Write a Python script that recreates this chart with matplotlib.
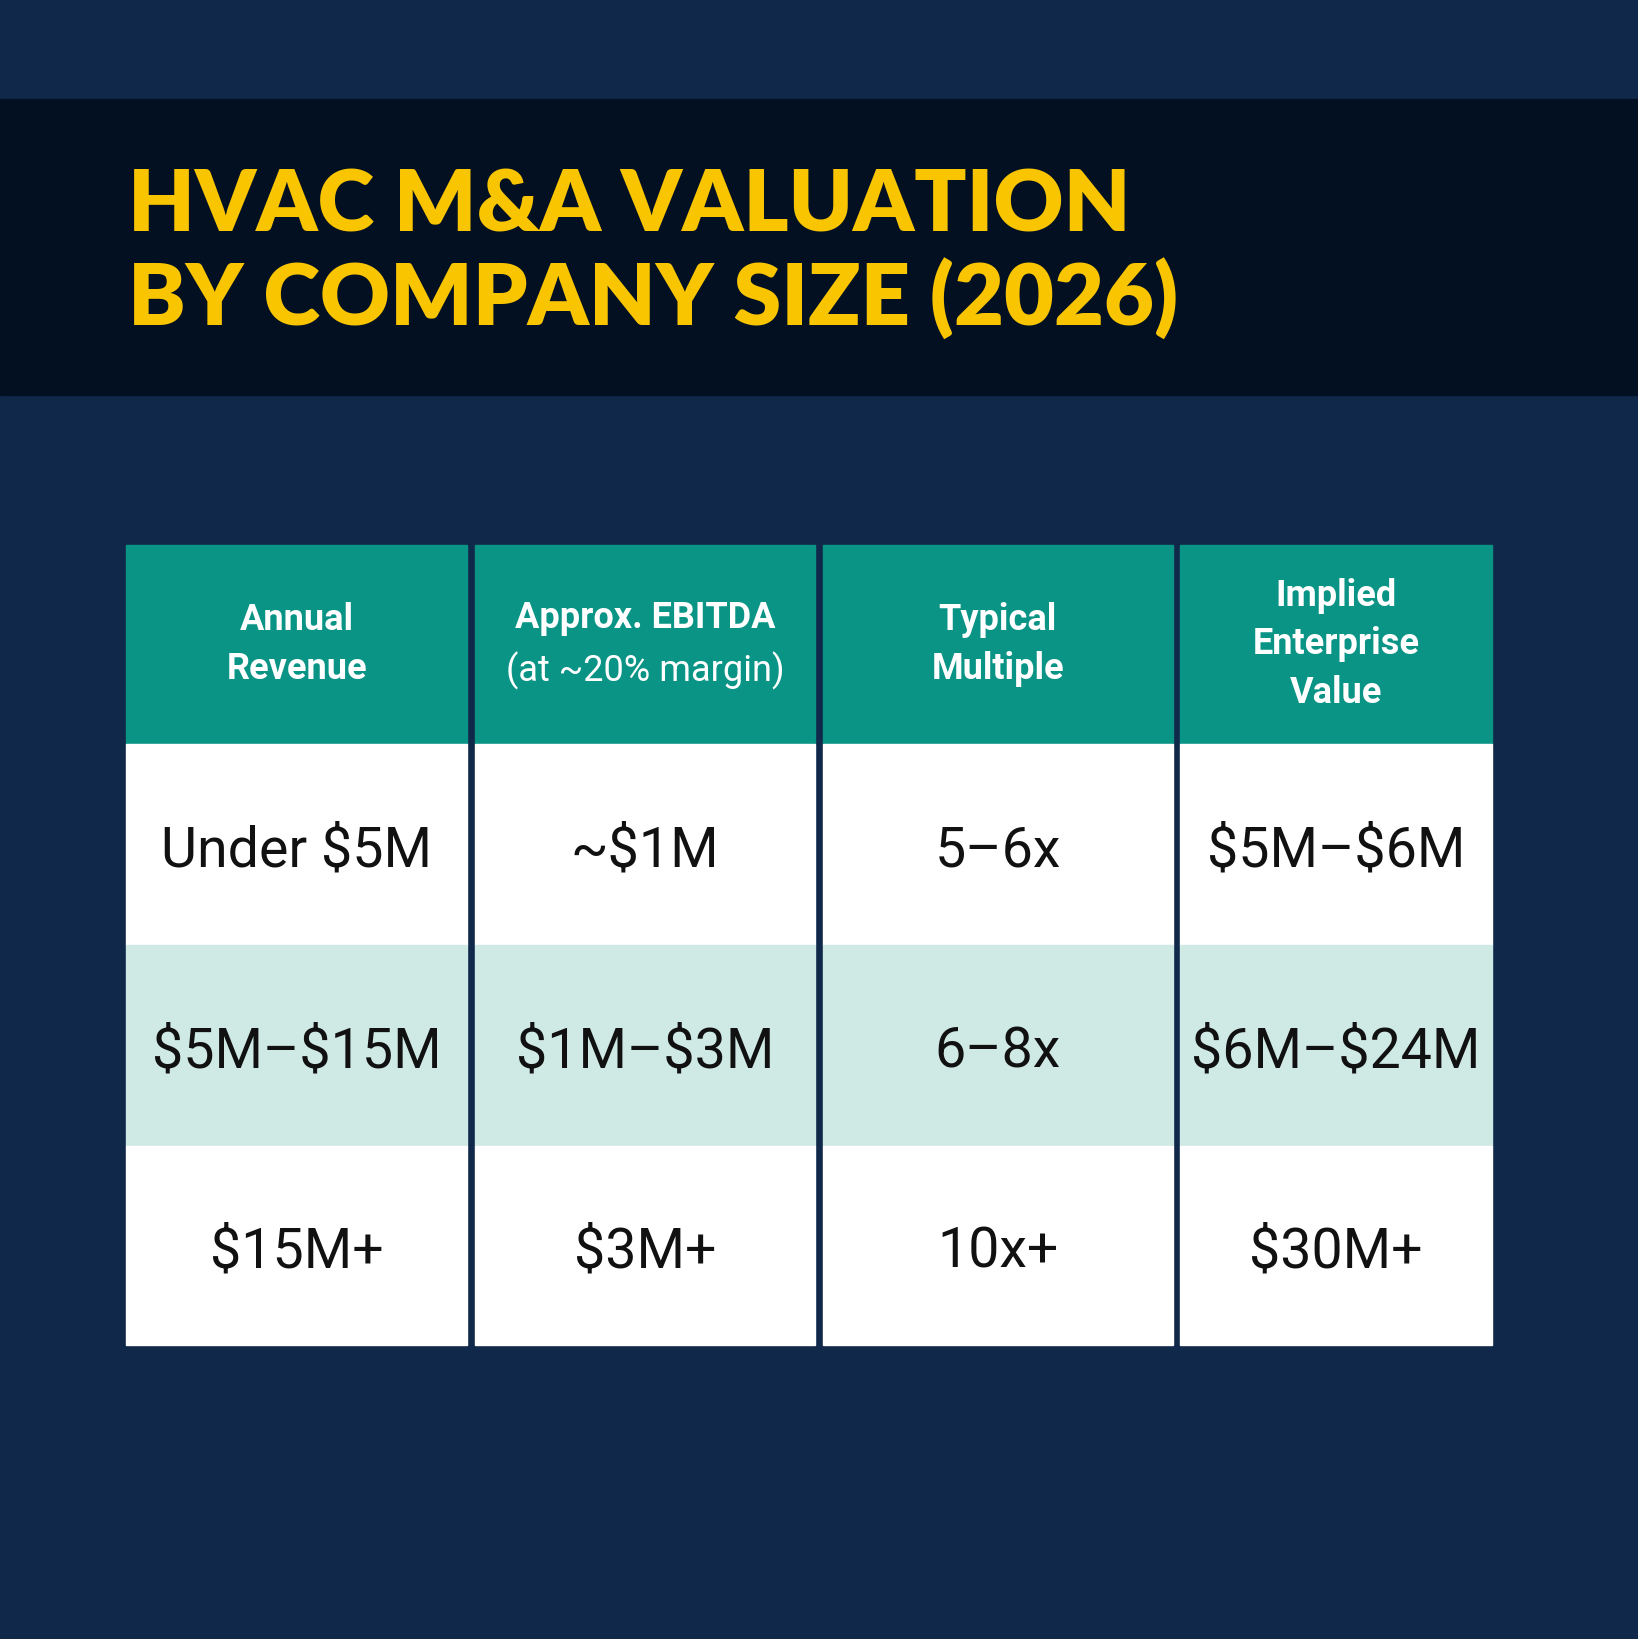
import matplotlib
matplotlib.use("Agg")
import matplotlib.pyplot as plt
from matplotlib.patches import Rectangle

plt.rcParams["text.parse_math"] = False

title_lines = ["HVAC M&A VALUATION", "BY COMPANY SIZE (2026)"]
headers_bold = ["Annual\nRevenue", "Approx. EBITDA", "Typical\nMultiple", "Implied\nEnterprise\nValue"]
headers_sub = ["", "(at ~20% margin)", "", ""]
revenue = ["Under $5M", "$5M–$15M", "$15M+"]
ebitda = ["~$1M", "$1M–$3M", "$3M+"]
multiple = ["5–6x", "6–8x", "10x+"]
ev = ["$5M–$6M", "$6M–$24M", "$30M+"]

W, H = 1567, 1568
fig = plt.figure(figsize=(16.38, 16.39), dpi=100)
ax = fig.add_axes([0, 0, 1, 1])
ax.set_xlim(0, W); ax.set_ylim(H, 0); ax.axis("off")
ax.add_patch(Rectangle((0, 0), W, H, color="#10294a"))
ax.add_patch(Rectangle((0, 95), W, 283, color="#021022"))
for i, t in enumerate(title_lines):
    ax.text(122, 198 + i * 88, t, color="#f9c500", fontsize=62, fontweight="heavy",
            family=["Lato", "DejaVu Sans"], va="center", ha="left")

cols = [(121, 447), (454, 780), (787, 1122), (1129, 1427)]
rows = [(521, 712), (712, 904), (904, 1096), (1096, 1287)]
fill = ["#0a9485", "#ffffff", "#cfe9e5", "#ffffff"]
fam = ["Roboto", "DejaVu Sans"]
data = [revenue, ebitda, multiple, ev]
for c, (x0, x1) in enumerate(cols):
    for r, (y0, y1) in enumerate(rows):
        ax.add_patch(Rectangle((x0, y0), x1 - x0, y1 - y0, color=fill[r]))
        cx, cy = (x0 + x1) / 2, (y0 + y1) / 2
        if r == 0:
            if headers_sub[c]:
                ax.text(cx, cy - 25, headers_bold[c], color="white", fontsize=26, fontweight="bold",
                        family=fam, ha="center", va="center")
                ax.text(cx, cy + 25, headers_sub[c], color="white", fontsize=26,
                        family=fam, ha="center", va="center")
            else:
                ax.text(cx, cy, headers_bold[c], color="white", fontsize=26, fontweight="bold",
                        family=fam, ha="center", va="center", linespacing=1.45)
        else:
            ax.text(cx, cy + 6, data[c][r - 1], color="#111111", fontsize=40,
                    family=fam, ha="center", va="center")
fig.savefig("out.png", dpi=100)
